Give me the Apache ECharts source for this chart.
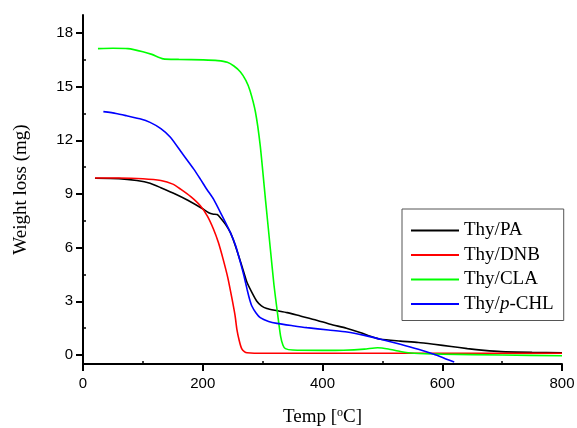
<!DOCTYPE html>
<html>
<head>
<meta charset="utf-8">
<script src="https://cdn.jsdelivr.net/npm/echarts@6/dist/echarts.min.js"></script>
<style>
  html, body { margin: 0; padding: 0; background: #fff; }
  #tga { width: 577px; height: 428px; }
</style>
</head>
<body>
<div id="tga"></div>
<script>
var chartDom_tga = document.getElementById('tga');
var myChart_tga = echarts.init(chartDom_tga);

// series names as in the legend
var names = ['Thy/PA', 'Thy/DNB', 'Thy/CLA', 'Thy/p-CHL'];
var colors = ['#000000', '#ff0000', '#00ff00', '#0000ff'];

// [temp °C, weight mg]
var thyPA = [[20,9.88],[60,9.86],[90,9.75],[112,9.6],[130,9.35],[154,9.0],[175,8.65],[199,8.19],[210,7.95],
  [218,7.87],[224,7.85],[229,7.69],[238,7.3],[246,6.85],[253,6.25],[260,5.54],[267,4.8],[274,4.05],[282,3.5],
  [290,3.02],[298,2.75],[307,2.6],[320,2.5],[341,2.37],[363,2.18],[390,1.95],[413,1.72],[440,1.5],[464,1.25],
  [480,1.05],[497,0.88],[530,0.78],[560,0.7],[586,0.6],[615,0.48],[642,0.36],[670,0.26],[698,0.19],[750,0.15],[800,0.13]];
var thyDNB = [[20,9.89],[60,9.89],[100,9.85],[130,9.75],[150,9.55],[163,9.27],[180,8.85],[196,8.34],[208,7.75],
  [218,7.03],[226,6.3],[234,5.36],[242,4.3],[249,3.12],[254,2.2],[257,1.44],[261,0.8],[265,0.36],[270,0.18],
  [274,0.13],[300,0.1],[400,0.1],[600,0.1],[800,0.1]];
var thyCLA = [[25,17.12],[50,17.14],[75,17.12],[100,16.95],[115,16.8],[134,16.55],[160,16.52],[201,16.49],[225,16.45],
  [241,16.36],[252,16.15],[263,15.82],[272,15.35],[279,14.77],[288,13.58],[296,11.7],[305,8.6],[313,5.9],[319,3.9],
  [324,2.56],[330,1.06],[334,0.55],[338,0.36],[350,0.28],[400,0.26],[435,0.27],[470,0.33],[492,0.41],[510,0.34],
  [530,0.2],[553,0.1],[600,0.05],[700,0.0],[800,-0.04]];
var thyCHL = [[34,13.6],[55,13.5],[73,13.37],[95,13.2],[112,13.0],[130,12.65],[146,12.17],[165,11.3],[185,10.39],
  [196,9.83],[207,9.25],[218,8.71],[232,7.8],[246,6.85],[255,6.1],[263,5.17],[269,4.4],[274,3.68],[278,3.15],
  [282,2.74],[289,2.35],[296,2.09],[310,1.88],[324,1.77],[350,1.64],[374,1.53],[410,1.4],[441,1.29],[470,1.1],
  [497,0.88],[530,0.6],[560,0.32],[586,0.04],[605,-0.2],[620,-0.39]];

var yTicks = [0, 3, 6, 9, 12, 15, 18];
var yMinor = [1.5, 4.5, 7.5, 10.5, 13.5, 16.5];
var xMinor = [100, 300, 500, 700];

var allData = [thyPA, thyDNB, thyCLA, thyCHL];
var seriesList = allData.map(function (d, i) {
  return {
    name: names[i],
    type: 'line',
    xAxisIndex: 0,
    yAxisIndex: 0,
    data: d,
    showSymbol: false,
    symbol: 'none',
    smooth: 0.2,
    lineStyle: { color: colors[i], width: 1.6 },
    itemStyle: { color: colors[i] }
  };
});

var option_tga = {
  animation: false,
  grid: { left: 83, right: 15, top: 15, bottom: 64, outerBoundsMode: 'none', containLabel: false },
  legend: {
    orient: 'vertical',
    left: 402,
    top: 209,
    padding: [12, 10, 7, 9],
    borderColor: '#555',
    borderWidth: 1,
    icon: 'rect',
    itemWidth: 48,
    itemHeight: 2,
    itemGap: 5.5,
    data: names,
    formatter: function (n) {
      return n === 'Thy/p-CHL' ? 'Thy/{it|p}-CHL' : n;
    },
    textStyle: {
      fontFamily: 'Liberation Serif',
      fontSize: 19,
      lineHeight: 19,
      color: '#000',
      rich: { it: { fontFamily: 'Liberation Serif', fontStyle: 'italic', fontSize: 19, color: '#000' } }
    }
  },
  xAxis: [
    {
      type: 'value',
      min: 0, max: 800, interval: 200,
      name: 'Temp [{sup|o}C]',
      nameLocation: 'middle',
      nameGap: 43,
      nameTextStyle: {
        fontFamily: 'Liberation Serif', fontSize: 19, color: '#000',
        rich: { sup: { fontFamily: 'Liberation Serif', fontSize: 12, verticalAlign: 'bottom', padding: [0, 0, 8, 0], color: '#000' } }
      },
      axisLine: { onZero: false, lineStyle: { color: '#000', width: 2 } },
      axisTick: { length: 7, lineStyle: { width: 2 } },
      axisLabel: { margin: 12, fontFamily: 'Liberation Sans', fontSize: 15, color: '#000' },
      splitLine: { show: false }
    },
    {
      type: 'value',
      min: 0, max: 800,
      position: 'bottom',
      offset: 0,
      axisLine: { show: false, onZero: false },
      axisLabel: { show: false },
      axisTick: { show: true, inside: true, length: 3, customValues: xMinor, lineStyle: { color: '#000', width: 1.5 } },
      splitLine: { show: false }
    }
  ],
  yAxis: [
    {
      type: 'value',
      min: -0.5, max: 19,
      name: 'Weight loss (mg)',
      nameLocation: 'middle',
      nameGap: 52,
      nameTextStyle: { fontFamily: 'Liberation Serif', fontSize: 19, color: '#000' },
      axisLine: { onZero: false, lineStyle: { color: '#000', width: 2 } },
      axisTick: { length: 7, customValues: yTicks, lineStyle: { width: 2 } },
      axisLabel: { margin: 10, customValues: yTicks, fontFamily: 'Liberation Sans', fontSize: 15, color: '#000' },
      splitLine: { show: false }
    },
    {
      type: 'value',
      min: -0.5, max: 19,
      position: 'left',
      offset: 0,
      axisLine: { show: false, onZero: false },
      axisLabel: { show: false },
      axisTick: { show: true, inside: true, length: 3, customValues: yMinor, lineStyle: { color: '#000', width: 1.5 } },
      splitLine: { show: false }
    }
  ],
  series: seriesList
};

myChart_tga.setOption(option_tga);
</script>
</body>
</html>
